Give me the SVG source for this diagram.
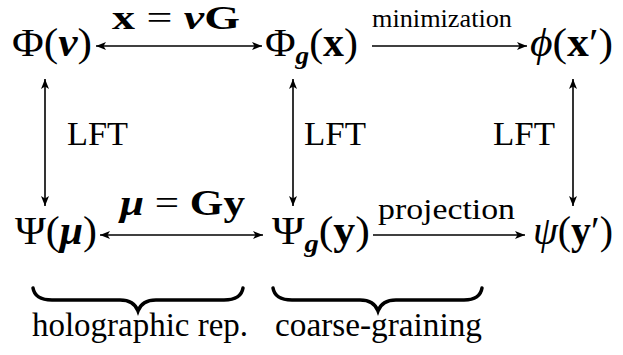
<svg xmlns="http://www.w3.org/2000/svg" width="623" height="355" viewBox="0 0 623 355">
<defs>
<marker id="ah" viewBox="0 0 10 10" refX="10" refY="5" markerWidth="10" markerHeight="10" markerUnits="userSpaceOnUse" orient="auto-start-reverse">
<path d="M0,1 L10,5 L0,9 L2.5,5 Z" fill="#000"/>
</marker>
</defs>
<rect width="623" height="355" fill="#fff"/>
<g id="connectors" stroke="#000" stroke-width="1.6" fill="none">
<line x1="96" y1="46" x2="262" y2="46" marker-start="url(#ah)" marker-end="url(#ah)"/>
<line x1="372" y1="46" x2="527" y2="46" marker-end="url(#ah)"/>
<line x1="45" y1="79" x2="45" y2="206" marker-start="url(#ah)" marker-end="url(#ah)"/>
<line x1="293" y1="79" x2="293" y2="206" marker-start="url(#ah)" marker-end="url(#ah)"/>
<line x1="573" y1="79" x2="573" y2="206" marker-start="url(#ah)" marker-end="url(#ah)"/>
<line x1="100" y1="235" x2="263" y2="235" marker-start="url(#ah)" marker-end="url(#ah)"/>
<line x1="373" y1="235" x2="525" y2="235" marker-end="url(#ah)"/>
</g>
<g id="labels" fill="#000" stroke="none">
<text font-family="Liberation Serif" font-size="33" x="112" y="29" textLength="128" lengthAdjust="spacingAndGlyphs"><tspan font-weight="bold">x</tspan> = <tspan font-weight="bold" font-style="italic">ν</tspan><tspan font-weight="bold">G</tspan></text>
<text font-family="Liberation Serif" font-size="26" x="372" y="27" textLength="140" lengthAdjust="spacingAndGlyphs">minimization</text>
<text font-family="Liberation Serif" font-size="34" x="67" y="145" textLength="61" lengthAdjust="spacingAndGlyphs">LFT</text>
<text font-family="Liberation Serif" font-size="34" x="304" y="145" textLength="62" lengthAdjust="spacingAndGlyphs">LFT</text>
<text font-family="Liberation Serif" font-size="34" x="493" y="145" textLength="62" lengthAdjust="spacingAndGlyphs">LFT</text>
<text font-family="Liberation Serif" font-size="35" x="120" y="215" textLength="125" lengthAdjust="spacingAndGlyphs"><tspan font-weight="bold" font-style="italic">μ</tspan> = <tspan font-weight="bold">Gy</tspan></text>
<text font-family="Liberation Serif" font-size="29" x="378" y="219" textLength="137" lengthAdjust="spacingAndGlyphs">projection</text>
</g>
<g id="n1"><text font-family="Liberation Serif" font-size="40" x="12" y="56" textLength="80" lengthAdjust="spacingAndGlyphs">Φ(<tspan font-weight="bold" font-style="italic">ν</tspan>)</text></g>
<g id="n2"><text font-family="Liberation Serif" font-size="40" x="265" y="56" textLength="93" lengthAdjust="spacingAndGlyphs">Φ<tspan font-weight="bold" font-style="italic" font-size="26" dy="8">g</tspan><tspan dy="-8">(</tspan><tspan font-weight="bold">x</tspan>)</text></g>
<g id="n3"><text font-family="Liberation Serif" font-size="40" x="530" y="56" textLength="83" lengthAdjust="spacingAndGlyphs"><tspan font-style="italic">ϕ</tspan>(<tspan font-weight="bold">x</tspan>′)</text></g>
<g id="n4"><text font-family="Liberation Serif" font-size="40" x="15" y="244" textLength="82" lengthAdjust="spacingAndGlyphs">Ψ(<tspan font-weight="bold" font-style="italic">μ</tspan>)</text></g>
<g id="n5"><text font-family="Liberation Serif" font-size="40" x="272" y="244" textLength="98" lengthAdjust="spacingAndGlyphs">Ψ<tspan font-weight="bold" font-style="italic" font-size="26" dy="8">g</tspan><tspan dy="-8">(</tspan><tspan font-weight="bold">y</tspan>)</text></g>
<g id="n6"><text font-family="Liberation Serif" font-size="40" x="533" y="244" textLength="80" lengthAdjust="spacingAndGlyphs"><tspan font-style="italic">ψ</tspan>(<tspan font-weight="bold">y</tspan>′)</text></g>
<g id="brace1">
<path stroke="#000" stroke-width="3.5" fill="none" stroke-linecap="round" d="M33,288 Q35,300 52,300 L120,300 Q134,300 138,311 Q142,300 156,300 L224,300 Q241,300 243,288"/>
<text font-family="Liberation Serif" font-size="34" x="32" y="336" textLength="216" lengthAdjust="spacingAndGlyphs">holographic rep.</text>
</g>
<g id="brace2">
<path stroke="#000" stroke-width="3.5" fill="none" stroke-linecap="round" d="M273,288 Q275,300 292,300 L360,300 Q374,300 378,311 Q382,300 396,300 L464,300 Q480,300 482,288"/>
<text font-family="Liberation Serif" font-size="34" x="275" y="336" textLength="207" lengthAdjust="spacingAndGlyphs">coarse-graining</text>
</g>
</svg>
